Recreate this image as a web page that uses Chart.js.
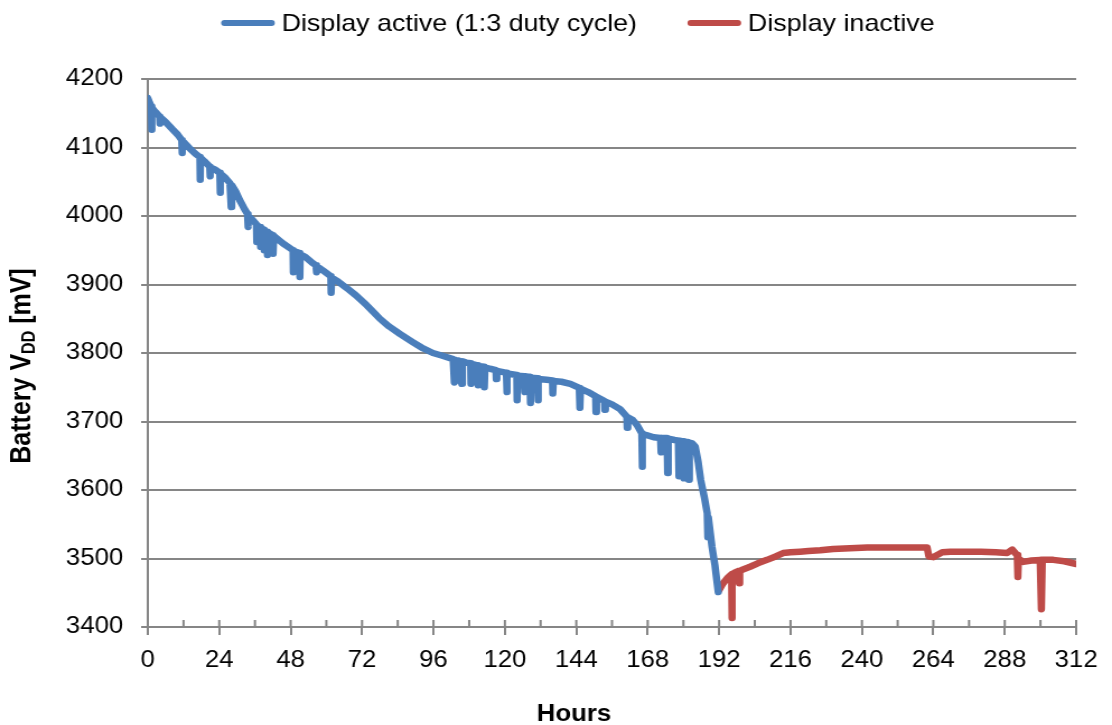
<!DOCTYPE html>
<html>
<head>
<meta charset="utf-8">
<script src="https://cdn.jsdelivr.net/npm/chart.js@4.4.1/dist/chart.umd.min.js"></script>
<style>
    html, body { margin: 0; padding: 0; background: #ffffff; }
</style>
</head>
<body>
<canvas id="batteryChart" width="993" height="725" style="width:1112px;height:725px"></canvas>
<script>
// Series labels
const seriesLabels = ['Display active (1:3 duty cycle)', 'Display inactive'];

// Battery voltage traces as [hours, mV] (down-spikes included)
const activeTrace = [
    [0, 4172], [0.6, 4165], [1.2, 4160], [1.3, 4126], [1.4, 4158], [2.5, 4152], [4, 4145], [4.1, 4135], [4.2, 4144],
    [6, 4137], [8.4, 4126], [10, 4119], [11.4, 4111], [11.5, 4092], [11.6, 4110], [14, 4099], [16, 4091],
    [17.5, 4086], [17.6, 4053], [17.7, 4085], [19, 4080], [20.8, 4072], [20.9, 4058], [21, 4071], [22.5, 4068],
    [24.2, 4063], [24.3, 4034], [24.4, 4062], [26, 4056], [27.6, 4048], [28, 4013], [28.2, 4045], [29.5, 4036],
    [30.9, 4023], [32.5, 4010], [33.5, 4003], [33.6, 3984], [33.8, 4000], [35, 3995], [36.5, 3988], [36.6, 3962],
    [36.8, 3986], [37.7, 3984], [37.8, 3955], [38, 3983], [39, 3980], [39.1, 3950], [39.3, 3979], [40, 3977],
    [40.2, 3943], [40.4, 3976], [42, 3972], [42.1, 3945], [42.3, 3971], [45.4, 3960], [48.8, 3950], [48.9, 3918],
    [49, 3949], [51, 3946], [51.1, 3911], [51.2, 3944], [53, 3940], [55.5, 3931], [56.5, 3928], [56.6, 3918],
    [56.8, 3927], [59, 3920], [61.5, 3912], [61.6, 3888], [61.8, 3910], [64, 3904], [66.8, 3895], [70, 3884],
    [73.5, 3870], [76, 3859], [78, 3850], [81, 3839], [84.7, 3828], [89, 3816], [92, 3808], [95.8, 3800],
    [99, 3796], [102.6, 3791], [103, 3757], [103.2, 3790], [104.2, 3760], [104.4, 3789], [105.5, 3755],
    [105.7, 3788], [107, 3786], [108.5, 3785], [108.6, 3755], [108.8, 3784], [110.8, 3782], [111, 3753],
    [111.2, 3781], [113, 3780], [113.1, 3750], [113.3, 3779], [115, 3777], [117, 3775], [117.1, 3762],
    [117.3, 3774], [119.4, 3772], [120.5, 3771], [120.6, 3743], [120.8, 3770], [124, 3768], [124.1, 3731],
    [124.3, 3767], [126.5, 3766], [126.6, 3743], [126.8, 3766], [128.4, 3765], [128.6, 3727], [128.8, 3764],
    [131, 3763], [131.1, 3731], [131.3, 3762], [134, 3761], [136, 3760], [136.1, 3741], [136.3, 3759],
    [139, 3758], [142, 3755], [145, 3749], [145.2, 3720], [145.4, 3748], [148, 3743], [150.5, 3737],
    [150.6, 3714], [150.8, 3736], [153.5, 3730], [153.6, 3717], [153.8, 3729], [156, 3725], [158.7, 3718],
    [161, 3707], [161.1, 3691], [161.3, 3706], [163, 3702], [164.4, 3695], [166, 3683], [166.1, 3634],
    [166.3, 3681], [167.8, 3680], [170, 3677], [172.3, 3676], [172.5, 3655], [172.7, 3676], [174.5, 3676],
    [174.7, 3625], [174.9, 3675], [177, 3673], [178.3, 3672], [178.5, 3620], [178.7, 3672], [180, 3671],
    [180.2, 3617], [180.5, 3670], [181.5, 3670], [181.8, 3615], [182, 3669], [183, 3668], [184, 3663],
    [185, 3640], [185.8, 3615], [187, 3590], [188, 3566], [188.2, 3531], [188.4, 3560], [189.6, 3517],
    [190.6, 3490], [191.7, 3451]
];

const inactiveTrace = [
    [192, 3454], [193.2, 3463], [194.7, 3471], [196.2, 3477], [196.3, 3413], [196.4, 3477], [197.5, 3480],
    [198.7, 3482], [198.8, 3464], [198.9, 3482], [200, 3484], [202.4, 3488], [205, 3493], [208.1, 3498],
    [211, 3503], [213.5, 3508], [216, 3509], [219.2, 3510], [222, 3511], [226, 3512], [230.3, 3514],
    [236, 3515], [241.8, 3516], [248, 3516], [255, 3516], [261.9, 3516], [262.5, 3503], [264, 3502],
    [265.3, 3505], [267, 3509], [269.7, 3510], [275, 3510], [280, 3510], [285, 3509], [288.8, 3508],
    [290.5, 3513], [291.5, 3508], [292.2, 3505], [292.4, 3473], [292.6, 3500], [294.2, 3495], [297, 3497],
    [299.9, 3498], [300.3, 3426], [300.6, 3498], [304.3, 3498], [308, 3496], [312, 3492]
];

// Axis ranges
const hoursMin = 0, hoursMax = 312, hoursStep = 24, hoursMinorStep = 12;
const mvMin = 3400, mvMax = 4200, mvStep = 100;

const colors = ['#4A7EBB', '#BE4B48'];
const gridColor = '#868686';
const fontFamily = "'Liberation Sans', Arial, sans-serif";

// Extra drawing: minor ticks, legend, axis titles (subscript in y title)
const extrasPlugin = {
    id: 'extras',
    beforeDatasetsDraw(chart) {
        const ctx = chart.ctx;
        const xs = chart.scales.x;
        const bottom = chart.chartArea.bottom;
        ctx.save();
        ctx.strokeStyle = gridColor;
        ctx.lineWidth = 2;
        ctx.beginPath();
        for (let h = hoursMin; h <= hoursMax; h += hoursMinorStep) {
            const px = xs.getPixelForValue(h);
            ctx.moveTo(px, bottom);
            ctx.lineTo(px, bottom - 7);
        }
        ctx.stroke();
        ctx.restore();
    },
    afterDraw(chart) {
        const ctx = chart.ctx;
        ctx.save();

        // Legend
        ctx.font = `24px ${fontFamily}`;
        ctx.textBaseline = 'middle';
        ctx.fillStyle = '#000';
        const lineLen = 48, gapText = 6, gapItems = 45;
        const w1 = ctx.measureText(seriesLabels[0]).width;
        const w2 = ctx.measureText(seriesLabels[1]).width;
        const total = lineLen + gapText + w1 + gapItems + lineLen + gapText + w2;
        let lx = 516 - total / 2;
        const ly = 23;
        [w1, w2].forEach((w, i) => {
            ctx.strokeStyle = colors[i];
            ctx.lineWidth = 6;
            ctx.lineCap = 'round';
            ctx.beginPath();
            ctx.moveTo(lx + 3, ly);
            ctx.lineTo(lx + lineLen - 3, ly);
            ctx.stroke();
            lx += lineLen + gapText;
            ctx.fillText(seriesLabels[i], lx, ly + 1);
            lx += w + gapItems;
        });

        // X axis title
        ctx.font = `bold 23px ${fontFamily}`;
        ctx.textAlign = 'center';
        ctx.textBaseline = 'alphabetic';
        ctx.fillText('Hours', 512.5, 721);

        // Y axis title with subscript
        const big = `bold 25px ${fontFamily}`;
        const small = `bold 16px ${fontFamily}`;
        const parts = [['Battery V', big, 0], ['DD', small, 4], [' [mV]', big, 0]];
        let width = 0;
        parts.forEach(p => { ctx.font = p[1]; width += ctx.measureText(p[0]).width; });
        ctx.translate(27, 366);
        ctx.rotate(-Math.PI / 2);
        ctx.textAlign = 'left';
        let tx = -width / 2;
        parts.forEach(p => {
            ctx.font = p[1];
            ctx.fillText(p[0], tx, p[2]);
            tx += ctx.measureText(p[0]).width;
        });
        ctx.restore();
    }
};

const ctx = document.getElementById('batteryChart').getContext('2d');
new Chart(ctx, {
    type: 'line',
    data: {
        datasets: [activeTrace, inactiveTrace].map((trace, i) => ({
            label: seriesLabels[i],
            data: trace.map(([h, mv]) => ({ x: h, y: mv })),
            borderColor: colors[i],
            backgroundColor: colors[i],
            borderWidth: 6.5,
            borderJoinStyle: 'round',
            borderCapStyle: 'round',
            pointRadius: 0,
            tension: 0,
            fill: false
        }))
    },
    options: {
        responsive: false,
        animation: false,
        layout: { padding: { top: 79, right: 32, left: 0, bottom: 0 } },
        plugins: {
            legend: { display: false },
            title: { display: false },
            tooltip: { enabled: false }
        },
        scales: {
            x: {
                type: 'linear',
                min: hoursMin,
                max: hoursMax,
                afterFit(scale) { scale.height = 98; },
                ticks: {
                    stepSize: hoursStep,
                    autoSkip: false,
                    maxRotation: 0,
                    padding: 12,
                    color: '#000',
                    font: { family: fontFamily, size: 23 },
                    callback: v => String(v)
                },
                grid: { drawOnChartArea: false, drawTicks: true, tickLength: 8, color: gridColor, lineWidth: 2 },
                border: { display: true, color: gridColor, width: 2 }
            },
            y: {
                min: mvMin,
                max: mvMax,
                afterFit(scale) { scale.width = 132; },
                ticks: {
                    stepSize: mvStep,
                    padding: 16,
                    color: '#000',
                    font: { family: fontFamily, size: 23 },
                    callback: v => String(v)
                },
                grid: { color: gridColor, lineWidth: 2, tickLength: 6 },
                border: { display: true, color: gridColor, width: 2 }
            }
        }
    },
    plugins: [extrasPlugin]
});
</script>
</body>
</html>
